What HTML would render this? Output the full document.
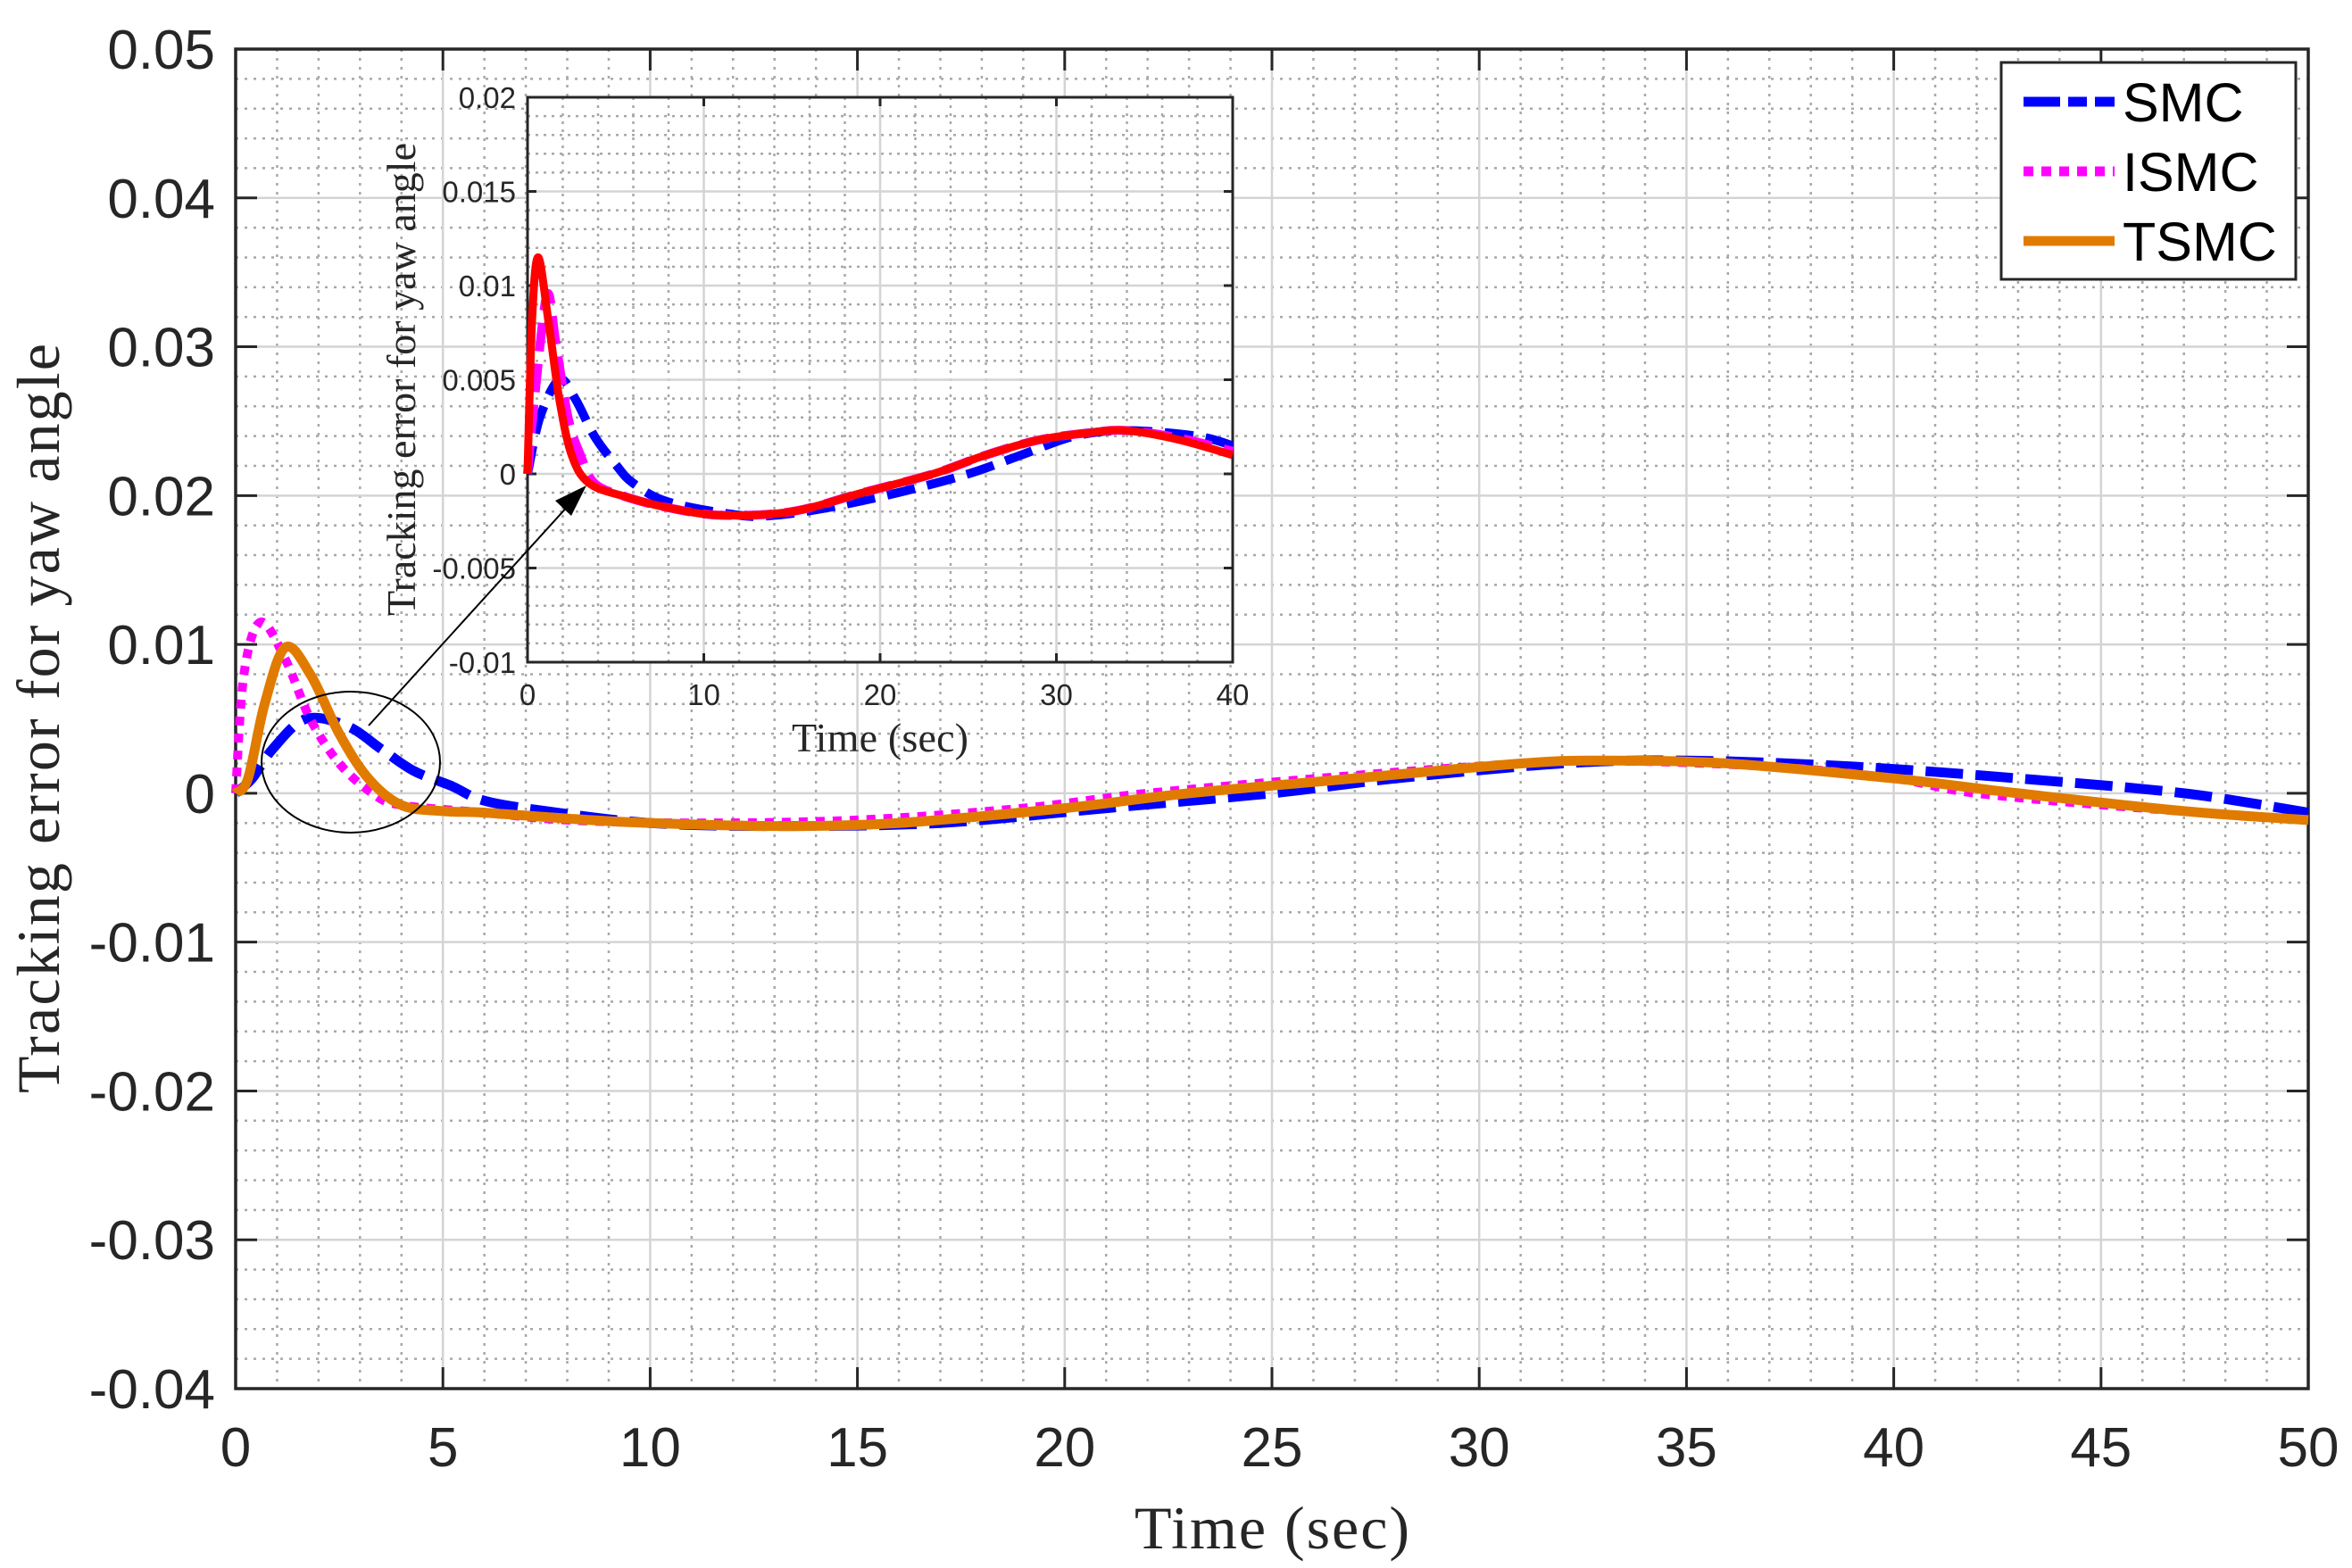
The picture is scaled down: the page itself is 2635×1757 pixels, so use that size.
<!DOCTYPE html>
<html><head><meta charset="utf-8"><style>
html,body{margin:0;padding:0;background:#fff}
svg{display:block}
text{font-family:"Liberation Sans",Arial,sans-serif}
.serif{font-family:"Liberation Serif","Times New Roman",serif}
</style></head><body>
<svg id="chart" width="2635" height="1757" viewBox="0 0 2635 1757" xmlns="http://www.w3.org/2000/svg">
<rect width="2635" height="1757" fill="#fff"/>
<g id="main"></g>
<g id="inset"></g>
<g id="legend">
  <rect x="2242" y="70" width="330" height="243" fill="#fff" stroke="#262626" stroke-width="3"/>
  <line x1="2267" y1="114" x2="2369" y2="114" stroke="#0000ff" stroke-width="11" stroke-dasharray="41 9 21 9"/>
  <text x="2378" y="136" font-size="61" fill="#000">SMC</text>
  <line x1="2267" y1="192" x2="2369" y2="192" stroke="#ff00ff" stroke-width="11" stroke-dasharray="11 9"/>
  <text x="2378" y="214" font-size="61" fill="#000">ISMC</text>
  <line x1="2267" y1="270" x2="2369" y2="270" stroke="#e07b00" stroke-width="11"/>
  <text x="2378" y="292" font-size="61" fill="#000">TSMC</text>
</g>
</svg>
<script>
// ---- main chart data ----
const xTicks = [0,5,10,15,20,25,30,35,40,45,50];
const yTicks = [-0.04,-0.03,-0.02,-0.01,0,0.01,0.02,0.03,0.04,0.05];
const yTickLabels = ["-0.04","-0.03","-0.02","-0.01","0","0.01","0.02","0.03","0.04","0.05"];
const smcT = [0,0.4,0.9,1.7,2.7,3.5,4.3,5.2,6,7.5,10,13,17,21,25,28,32,35,39,43,47,50];
const smcV = [0,0.001,0.003,0.005,0.0045,0.003,0.0015,0.0005,-0.0005,-0.0012,-0.002,-0.0022,-0.002,-0.001,0,0.001,0.002,0.0022,0.0018,0.001,0,-0.0013];
const ismcT = [0,0.2,0.6,1.2,1.8,2.5,3.3,4,6,8,11,15,19,22,27,31,33,37,40,42,46,50];
const ismcV = [0,0.008,0.0115,0.009,0.005,0.002,0,-0.0008,-0.0013,-0.0018,-0.002,-0.0018,-0.001,0,0.0012,0.002,0.0022,0.0018,0.001,0,-0.001,-0.0018];
const tsmcT = [0,0.3,0.7,1.2,1.8,2.5,3.2,4,5,6,8,10,13,16,20,23,27,31,33,36,40,43,47,50];
const tsmcV = [0,0.001,0.006,0.0098,0.008,0.004,0.001,-0.0008,-0.0012,-0.0013,-0.0017,-0.002,-0.0022,-0.002,-0.001,0,0.001,0.002,0.0022,0.002,0.001,0,-0.0012,-0.0018];
// ---- inset data ----
const inXTicks = [0,10,20,30,40];
const inYTicks = [-0.01,-0.005,0,0.005,0.01,0.015,0.02];
const inYTickLabels = ["-0.01","-0.005","0","0.005","0.01","0.015","0.02"];
const inBlueT = [0,0.7,1.8,2.7,3.8,5,6,8,12,14,17,21,25,28,31,34,38,40];
const inBlueV = [0,0.003,0.005,0.004,0.002,0.0005,-0.0005,-0.0015,-0.0022,-0.0022,-0.0018,-0.001,0,0.001,0.002,0.0023,0.002,0.0015];
const inMagT = [0,0.4,1.1,1.6,2.3,3,3.8,5.5,8,11,15,19,23,26,29,32,34,37,40];
const inMagV = [0,0.004,0.0095,0.007,0.003,0.001,-0.0005,-0.0012,-0.0018,-0.0022,-0.002,-0.001,0,0.001,0.0018,0.0022,0.0023,0.0019,0.0012];
const inRedT = [0,0.25,0.6,1.2,1.8,2.5,3.5,5.5,8,11,15,19,23,26,29,32,34,37,40];
const inRedV = [0,0.008,0.0115,0.008,0.004,0.001,-0.0005,-0.0012,-0.0018,-0.0022,-0.002,-0.001,0,0.001,0.0018,0.0022,0.0023,0.0018,0.001];

const NS="http://www.w3.org/2000/svg";
function mk(parent,tag,attrs,txt){const e=document.createElementNS(NS,tag);for(const k in attrs)e.setAttribute(k,attrs[k]);if(txt!==undefined)e.textContent=txt;parent.appendChild(e);return e;}
function pathFrom(ts,vs,sx,sy){
  const p=ts.map((t,i)=>[sx(t),sy(vs[i])]);
  let d="M"+p[0][0]+","+p[0][1];
  for(let i=0;i<p.length-1;i++){
    const p0=p[Math.max(0,i-1)],p1=p[i],p2=p[i+1],p3=p[Math.min(p.length-1,i+2)];
    const c1=[p1[0]+(p2[0]-p0[0])/6,p1[1]+(p2[1]-p0[1])/6];
    const c2=[p2[0]-(p3[0]-p1[0])/6,p2[1]-(p3[1]-p1[1])/6];
    d+=" C"+c1[0].toFixed(1)+","+c1[1].toFixed(1)+" "+c2[0].toFixed(1)+","+c2[1].toFixed(1)+" "+p2[0].toFixed(1)+","+p2[1].toFixed(1);
  }
  return d;
}

// ---- main axes ----
const L=264,R=2586,T=55,B=1556;
const X0=0,X1=50,Y0=-0.04,Y1=0.05;
const sx=t=>L+(t-X0)/(X1-X0)*(R-L);
const sy=v=>B-(v-Y0)/(Y1-Y0)*(B-T);
const g=document.getElementById('main');
for(let t=X0;t<=X1;t+=1){ if(t%5===0)continue;
  const e=mk(g,'line',{x1:sx(t),x2:sx(t),y1:T,y2:B,stroke:'#a8a8a8','stroke-width':2.5,'stroke-dasharray':'3 7'});
  
  
}
for(let k=-20;k<=25;k++){ if(k%5===0)continue; const v=k*0.002;
  const e=mk(g,'line',{x1:L,x2:R,y1:sy(v),y2:sy(v),stroke:'#a8a8a8','stroke-width':2.5,'stroke-dasharray':'3 7'});
  
  
}
xTicks.forEach(t=>{
  const e=mk(g,'line',{x1:sx(t),x2:sx(t),y1:T,y2:B,stroke:'#d4d4d4','stroke-width':2.5});
  
  
  mk(g,'line',{x1:sx(t),x2:sx(t),y1:B,y2:B-24,stroke:'#262626','stroke-width':3});
  mk(g,'line',{x1:sx(t),x2:sx(t),y1:T,y2:T+24,stroke:'#262626','stroke-width':3});
  const lb=mk(g,'text',{x:sx(t),y:1643,'font-size':62,fill:'#262626','text-anchor':'middle'},String(t));
  
  
});
yTicks.forEach((v,i)=>{
  const e=mk(g,'line',{x1:L,x2:R,y1:sy(v),y2:sy(v),stroke:'#d4d4d4','stroke-width':2.5});
  
  
  mk(g,'line',{x1:L,x2:L+24,y1:sy(v),y2:sy(v),stroke:'#262626','stroke-width':3});
  mk(g,'line',{x1:R,x2:R-24,y1:sy(v),y2:sy(v),stroke:'#262626','stroke-width':3});
  const lb=mk(g,'text',{x:241,y:sy(v)+22,'font-size':62,fill:'#262626','text-anchor':'end'},yTickLabels[i]);
  
  
});
const frame=mk(g,'rect',{x:L,y:T,width:R-L,height:B-T,fill:'none',stroke:'#262626','stroke-width':3.5});


const s1=mk(g,'path',{d:pathFrom(smcT,smcV,sx,sy),fill:'none',stroke:'#0000ff','stroke-width':11,'stroke-dasharray':'42 14'});


const s2=mk(g,'path',{d:pathFrom(ismcT,ismcV,sx,sy),fill:'none',stroke:'#ff00ff','stroke-width':10,'stroke-dasharray':'10 9'});


const s3=mk(g,'path',{d:pathFrom(tsmcT,tsmcV,sx,sy),fill:'none',stroke:'#e07b00','stroke-width':11});


const xl=mk(g,'text',{x:1425,y:1735,'font-size':68,fill:'#262626','text-anchor':'middle',class:'serif',textLength:308},'Time (sec)');


const yl=mk(g,'text',{x:0,y:0,'font-size':68,fill:'#262626','text-anchor':'middle',class:'serif',transform:'translate(66,805) rotate(-90)',textLength:840},'Tracking error for yaw angle');


const el=mk(g,'ellipse',{cx:393,cy:854,rx:100,ry:79,fill:'none',stroke:'#000','stroke-width':2});



// ---- inset ----
const iL=591,iR=1381,iT=109,iB=742;
const isx=t=>iL+t/40*(iR-iL);
const isy=v=>iB-(v+0.01)/0.03*(iB-iT);
const h=document.getElementById('inset');


mk(h,'rect',{x:iL,y:iT,width:iR-iL,height:iB-iT,fill:'#fff'});
for(let t=2;t<40;t+=2){ if(t%10===0)continue;
  mk(h,'line',{x1:isx(t),x2:isx(t),y1:iT,y2:iB,stroke:'#a8a8a8','stroke-width':2.5,'stroke-dasharray':'3 6'});
}
for(let k=-9;k<20;k++){ if(k%5===0)continue; const v=k*0.001;
  mk(h,'line',{x1:iL,x2:iR,y1:isy(v),y2:isy(v),stroke:'#a8a8a8','stroke-width':2.5,'stroke-dasharray':'3 6'});
}
inXTicks.forEach(t=>{
  mk(h,'line',{x1:isx(t),x2:isx(t),y1:iT,y2:iB,stroke:'#d4d4d4','stroke-width':2.5});
  mk(h,'line',{x1:isx(t),x2:isx(t),y1:iB,y2:iB-10,stroke:'#262626','stroke-width':3});
  mk(h,'line',{x1:isx(t),x2:isx(t),y1:iT,y2:iT+10,stroke:'#262626','stroke-width':3});
  const lb=mk(h,'text',{x:isx(t),y:790,'font-size':33,fill:'#262626','text-anchor':'middle'},String(t));
  
  
});
inYTicks.forEach((v,i)=>{
  mk(h,'line',{x1:iL,x2:iR,y1:isy(v),y2:isy(v),stroke:'#d4d4d4','stroke-width':2.5});
  mk(h,'line',{x1:iL,x2:iL+10,y1:isy(v),y2:isy(v),stroke:'#262626','stroke-width':3});
  mk(h,'line',{x1:iR,x2:iR-10,y1:isy(v),y2:isy(v),stroke:'#262626','stroke-width':3});
  const lb=mk(h,'text',{x:578,y:isy(v)+12,'font-size':33,fill:'#262626','text-anchor':'end'},inYTickLabels[i]);
  
  
});
mk(h,'rect',{x:iL,y:iT,width:iR-iL,height:iB-iT,fill:'none',stroke:'#262626','stroke-width':3});
const b1=mk(h,'path',{d:pathFrom(inBlueT,inBlueV,isx,isy),fill:'none',stroke:'#0000ff','stroke-width':10,'stroke-dasharray':'32 14'});


const b2=mk(h,'path',{d:pathFrom(inMagT,inMagV,isx,isy),fill:'none',stroke:'#ff00ff','stroke-width':10,'stroke-dasharray':'32 14'});


const b3=mk(h,'path',{d:pathFrom(inRedT,inRedV,isx,isy),fill:'none',stroke:'#ff0000','stroke-width':9});


const ixl=mk(h,'text',{x:986,y:842,'font-size':46,fill:'#262626','text-anchor':'middle',class:'serif',textLength:198},'Time (sec)');


const iyl=mk(h,'text',{x:0,y:0,'font-size':46,fill:'#262626','text-anchor':'middle',class:'serif',transform:'translate(465,425) rotate(-90)',textLength:530},'Tracking error for yaw angle');


const ar=mk(document.getElementById('chart'),'line',{x1:413,y1:813,x2:648,y2:554,stroke:'#000','stroke-width':2});


const ah=mk(document.getElementById('chart'),'polygon',{points:'657,544 622,561 640,578',fill:'#000'});


document.getElementById('chart').appendChild(document.getElementById('legend'));
</script>
</body></html>
